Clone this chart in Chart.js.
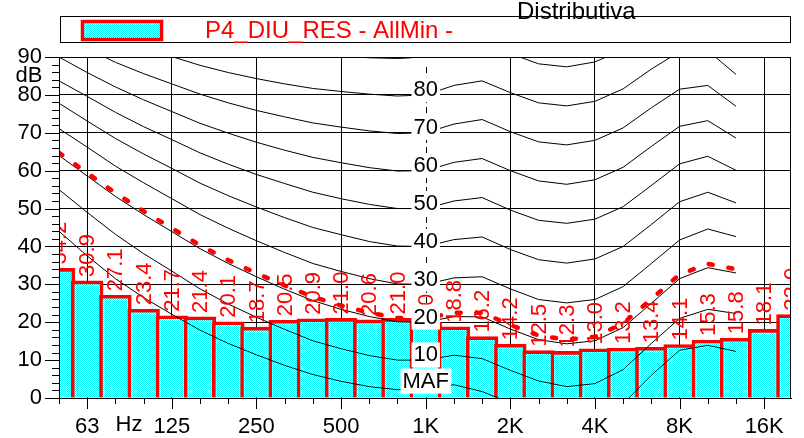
<!DOCTYPE html>
<html>
<head>
<meta charset="utf-8">
<script src="https://cdn.jsdelivr.net/npm/chart.js@4/dist/chart.umd.min.js"></script>
<style>
  html, body { margin: 0; padding: 0; background: #fff; }
  canvas { display: block; }
</style>
</head>
<body>
<canvas id="chart" width="804" height="438"></canvas>
<script>
'use strict';

// =========================================================
// DATA
// =========================================================

const bandLabels = ['50', '63', '80', '100', '125', '160', '200', '250', '315', '400', '500', '630', '800',
    '1K', '1.25K', '1.6K', '2K', '2.5K', '3.15K', '4K', '5K', '6.3K', '8K', '10K', '12.5K', '16K', '20K'];
const tickLabels = ['63', '125', '250', '500', '1K', '2K', '4K', '8K', '16K'];
const yTickLabels = [0, 10, 20, 30, 40, 50, 60, 70, 80, 90];

const barValues = [34.2, 30.9, 27.1, 23.4, 21.7, 21.4, 20.1, 18.7, 20.5, 20.9, 21.0, 20.6, 21.0,
    20.0, 18.8, 16.2, 14.2, 12.5, 12.3, 13.0, 13.2, 13.4, 14.1, 15.3, 15.8, 18.1, 22.0];

// equal loudness contours, 50 Hz .. 12.5 kHz
const contourNames = ['90', '80', '70', '60', '50', '40', '30', '20', '10', 'MAF'];
const phon90 = [null, null, null, null, null, null, null, 92.7, 91.6, 90.8, 90.2, 89.8, 89.6,
    90.0, 92.7, 94.0, 90.9, 88.2, 87.4, 88.7, 92.0, 97.0, null, null, null];
const phon80 = [null, null, 95.2, 92.5, 90.1, 87.8, 85.9, 84.3, 82.9, 81.7, 80.9, 80.2, 79.7,
    80.0, 82.5, 83.7, 80.6, 77.9, 77.1, 78.3, 81.6, 86.8, 91.4, 91.7, 85.4];
const phon70 = [95.9, 92.2, 88.6, 85.6, 82.9, 80.2, 77.9, 75.9, 74.2, 72.6, 71.5, 70.5, 69.8,
    70.0, 72.3, 73.5, 70.3, 67.6, 66.8, 68.0, 71.3, 76.6, 81.5, 82.5, 77.0];
const phon60 = [90.0, 85.9, 82.1, 78.7, 75.6, 72.5, 69.9, 67.5, 65.4, 63.5, 62.1, 60.8, 59.9,
    60.0, 62.2, 63.2, 60.0, 57.3, 56.4, 57.6, 60.9, 66.4, 71.7, 73.2, 68.6];
const phon50 = [83.7, 79.6, 75.4, 71.6, 68.2, 64.7, 61.7, 59.0, 56.6, 54.3, 52.6, 51.1, 50.0,
    50.0, 52.0, 52.9, 49.6, 46.9, 46.1, 47.2, 50.5, 56.1, 61.8, 63.8, 60.1];
const phon40 = [77.8, 73.1, 68.5, 64.4, 60.6, 56.7, 53.4, 50.4, 47.6, 45.0, 43.1, 41.3, 40.1,
    40.0, 41.8, 42.5, 39.2, 36.5, 35.6, 36.7, 40.0, 45.8, 51.8, 54.3, 51.5];
const phon30 = [71.1, 66.2, 61.2, 56.8, 52.6, 48.4, 44.8, 41.5, 38.4, 35.5, 33.4, 31.5, 30.1,
    30.0, 31.7, 32.0, 28.8, 26.0, 25.1, 26.0, 29.4, 35.5, 41.7, 44.6, 42.6];
const phon20 = [64.0, 58.6, 53.2, 48.4, 43.9, 39.4, 35.5, 32.0, 28.7, 25.7, 23.4, 21.5, 20.1,
    20.0, 21.5, 21.4, 18.2, 15.4, 14.3, 15.1, 18.6, 25.0, 31.5, 34.4, 33.0];
const phon10 = [55.0, 49.0, 43.2, 38.1, 33.5, 28.8, 24.8, 21.3, 18.1, 15.1, 13.0, 11.2, 10.0,
    10.0, 11.3, 10.4, 7.3, 4.5, 3.0, 3.8, 7.5, 14.4, 21.0, 23.4, 22.3];
const maf = [44.0, 37.5, 31.5, 26.5, 22.1, 17.9, 14.4, 11.4, 8.6, 6.2, 4.4, 3.0, 2.2,
    2.4, 3.5, 1.7, -1.3, -4.2, -6.0, -5.4, -1.5, 6.0, 12.6, 13.9, 12.3];

// red dotted curve
const loudnessCurve = [64.7, 59.4, 54.1, 49.3, 44.8, 40.3, 36.4, 32.9, 29.7, 26.7, 24.4, 22.5, 21.1,
    21.0, 22.5, 22.5, 19.3, 16.5, 15.4, 16.2, 19.7, 26.1, 32.6, 35.4, 34.0];

const legendText = 'P4_DIU_RES - AllMin -';
const titleText = 'Distributiva';


// =========================================================
// STYLE
// =========================================================

const FONT = "'Liberation Sans', Arial, sans-serif";
const RED = '#ff0000';

// cyan / white dot pattern used by the bars
const makeHatch = () => {
    const tile = document.createElement('canvas');
    tile.width = 2;
    tile.height = 2;
    const c = tile.getContext('2d');
    c.fillStyle = '#00ffff';
    c.fillRect(0, 0, 2, 2);
    c.fillStyle = '#e8ffff';
    c.fillRect(1, 0, 1, 1);
    c.fillRect(0, 1, 1, 1);
    return c.createPattern(tile, 'repeat');
};

const hatch = makeHatch();

const toPoints = (values) => values.map((v, i) => ({ x: i, y: v }));

const contourSets = [phon90, phon80, phon70, phon60, phon50, phon40, phon30, phon20, phon10, maf]
    .map((values, k) => ({
        type: 'line',
        label: contourNames[k],
        data: toPoints(values),
        borderColor: '#000',
        borderWidth: 1,
        pointRadius: 0,
        tension: 0,
        clip: 0,
        order: 2,
    }));


// =========================================================
// PLUGIN: labels, ticks, legend
// =========================================================

const decor = {
    id: 'decor',

    beforeDatasetsDraw(chart) {
        const { ctx, chartArea: a, scales: { x } } = chart;
        const px = Math.round(x.getPixelForValue(bandLabels.indexOf('1K'))) + 0.5;

        ctx.save();
        ctx.strokeStyle = '#000';
        ctx.lineWidth = 1;
        ctx.setLineDash([6, 4]);
        ctx.beginPath();
        ctx.moveTo(px, a.top);
        ctx.lineTo(px, a.bottom);
        ctx.stroke();
        ctx.restore();
    },

    afterDatasetsDraw(chart) {
        const { ctx, chartArea: a, scales: { x, y } } = chart;
        const bars = chart.getDatasetMeta(0).data;

        ctx.save();
        ctx.beginPath();
        ctx.rect(a.left, a.top, a.right - a.left, a.bottom - a.top);
        ctx.clip();

        // bar values, rotated
        ctx.fillStyle = RED;
        ctx.font = `22px ${FONT}`;
        ctx.textAlign = 'left';
        ctx.textBaseline = 'middle';
        bars.forEach((bar, i) => {
            ctx.save();
            ctx.translate(bar.x + 1, bar.y - 4);
            ctx.rotate(-Math.PI / 2);
            ctx.fillText(barValues[i].toFixed(1), 0, 0);
            ctx.restore();
        });

        // contour names at 1 kHz
        const cx = x.getPixelForValue(bandLabels.indexOf('1K'));
        ctx.textAlign = 'center';
        contourNames.forEach((name) => {
            const level = name === 'MAF' ? 4.6 : Number(name) + 1.5;
            const cy = y.getPixelForValue(level);
            const w = ctx.measureText(name).width + 4;
            ctx.fillStyle = '#fff';
            ctx.fillRect(cx - w / 2, cy - 12, w, 25);
            ctx.fillStyle = '#000';
            ctx.fillText(name, cx, cy + 1);
        });

        ctx.restore();
    },

    afterDraw(chart) {
        const { ctx, chartArea: a, scales: { x, y } } = chart;

        ctx.save();
        ctx.strokeStyle = '#000';
        ctx.lineWidth = 1;

        // frame
        ctx.strokeRect(a.left + 0.5, a.top + 0.5, a.right - a.left - 1, a.bottom - a.top);

        // y ticks every 2 dB
        for (let v = 0; v <= 90; v += 2) {
            const py = Math.round(y.getPixelForValue(v)) + 0.5;
            const len = v % 10 === 0 ? 14 : 7;
            ctx.beginPath();
            ctx.moveTo(a.left - len, py);
            ctx.lineTo(a.left, py);
            ctx.stroke();
        }

        // x ticks on every third-octave band
        bandLabels.forEach((band, i) => {
            const px = Math.round(x.getPixelForValue(i)) + 0.5;
            if (px > a.right) return;
            const len = tickLabels.includes(band) ? 11 : 6;
            ctx.beginPath();
            ctx.moveTo(px, a.bottom);
            ctx.lineTo(px, a.bottom + len);
            ctx.stroke();
        });

        ctx.fillStyle = '#000';
        ctx.font = `22px ${FONT}`;
        ctx.textAlign = 'center';
        ctx.textBaseline = 'middle';
        ctx.fillText('dB', 29, 76);
        ctx.fillText('Hz', x.getPixelForValue(2.48), a.bottom + 27);

        // legend box
        ctx.strokeRect(60.5, 16.5, 730, 26);
        ctx.fillStyle = hatch;
        ctx.fillRect(82, 21, 80, 19);
        ctx.strokeStyle = RED;
        ctx.lineWidth = 3.5;
        ctx.strokeRect(82.5, 21.5, 79, 18);

        ctx.font = `24px ${FONT}`;
        ctx.textAlign = 'left';
        ctx.fillStyle = RED;
        ctx.fillText(legendText, 205, 31);

        ctx.fillStyle = '#000';
        ctx.fillText(titleText, 517, 12);

        ctx.restore();
    },
};


// =========================================================
// CHART
// =========================================================

const octaveIndexes = tickLabels.map((t) => bandLabels.indexOf(t));

new Chart(document.querySelector('#chart'), {
    type: 'bar',
    data: {
        datasets: [
            {
                type: 'bar',
                label: legendText,
                data: toPoints(barValues),
                backgroundColor: hatch,
                borderColor: RED,
                borderWidth: 3.6,
                barThickness: 31.8,
                clip: 0,
                order: 3,
            },
            ...contourSets,
            {
                type: 'line',
                label: 'loudness',
                data: toPoints(loudnessCurve),
                borderColor: RED,
                borderWidth: 4.5,
                borderDash: [4, 16],
                borderCapStyle: 'round',
                pointRadius: 0,
                tension: 0,
                clip: 0,
                order: 1,
            },
        ],
    },
    options: {
        responsive: false,
        animation: false,
        devicePixelRatio: 1,
        events: [],
        layout: {
            padding: { top: 57, right: 13, bottom: 0, left: 0 },
        },
        plugins: {
            legend: { display: false },
            tooltip: { enabled: false },
        },
        scales: {
            x: {
                type: 'linear',
                offset: false,
                min: 0,
                max: 25.95,
                afterBuildTicks: (scale) => {
                    scale.ticks = bandLabels
                        .map((band, i) => ({ value: i }))
                        .filter((t) => t.value <= 25.95);
                },
                afterFit: (scale) => {
                    scale.height = 40;
                },
                ticks: {
                    autoSkip: false,
                    maxRotation: 0,
                    padding: 16,
                    color: '#000',
                    font: { family: FONT, size: 22 },
                    callback: (value) => {
                        const band = bandLabels[value];
                        return tickLabels.includes(band) ? band : '';
                    },
                },
                grid: {
                    offset: false,
                    drawTicks: false,
                    lineWidth: 1,
                    color: (ctx) => {
                        const i = ctx.tick ? ctx.tick.value : -1;
                        if (i === bandLabels.indexOf('1K')) return 'rgba(0,0,0,0)';
                        return octaveIndexes.includes(i) ? '#000' : 'rgba(0,0,0,0)';
                    },
                },
                border: { display: true, color: '#000', width: 1 },
            },
            y: {
                min: 0,
                max: 90,
                afterFit: (scale) => {
                    scale.width = 59;
                },
                ticks: {
                    stepSize: 2,
                    autoSkip: false,
                    padding: 17,
                    color: '#000',
                    font: { family: FONT, size: 22 },
                    callback: (value) => (yTickLabels.includes(value) ? String(value) : ''),
                },
                grid: {
                    drawTicks: false,
                    lineWidth: 1,
                    color: (ctx) => (ctx.tick && yTickLabels.includes(ctx.tick.value) ? '#000' : 'rgba(0,0,0,0)'),
                },
                border: { display: true, color: '#000', width: 1 },
            },
        },
    },
    plugins: [decor],
});
</script>
</body>
</html>
